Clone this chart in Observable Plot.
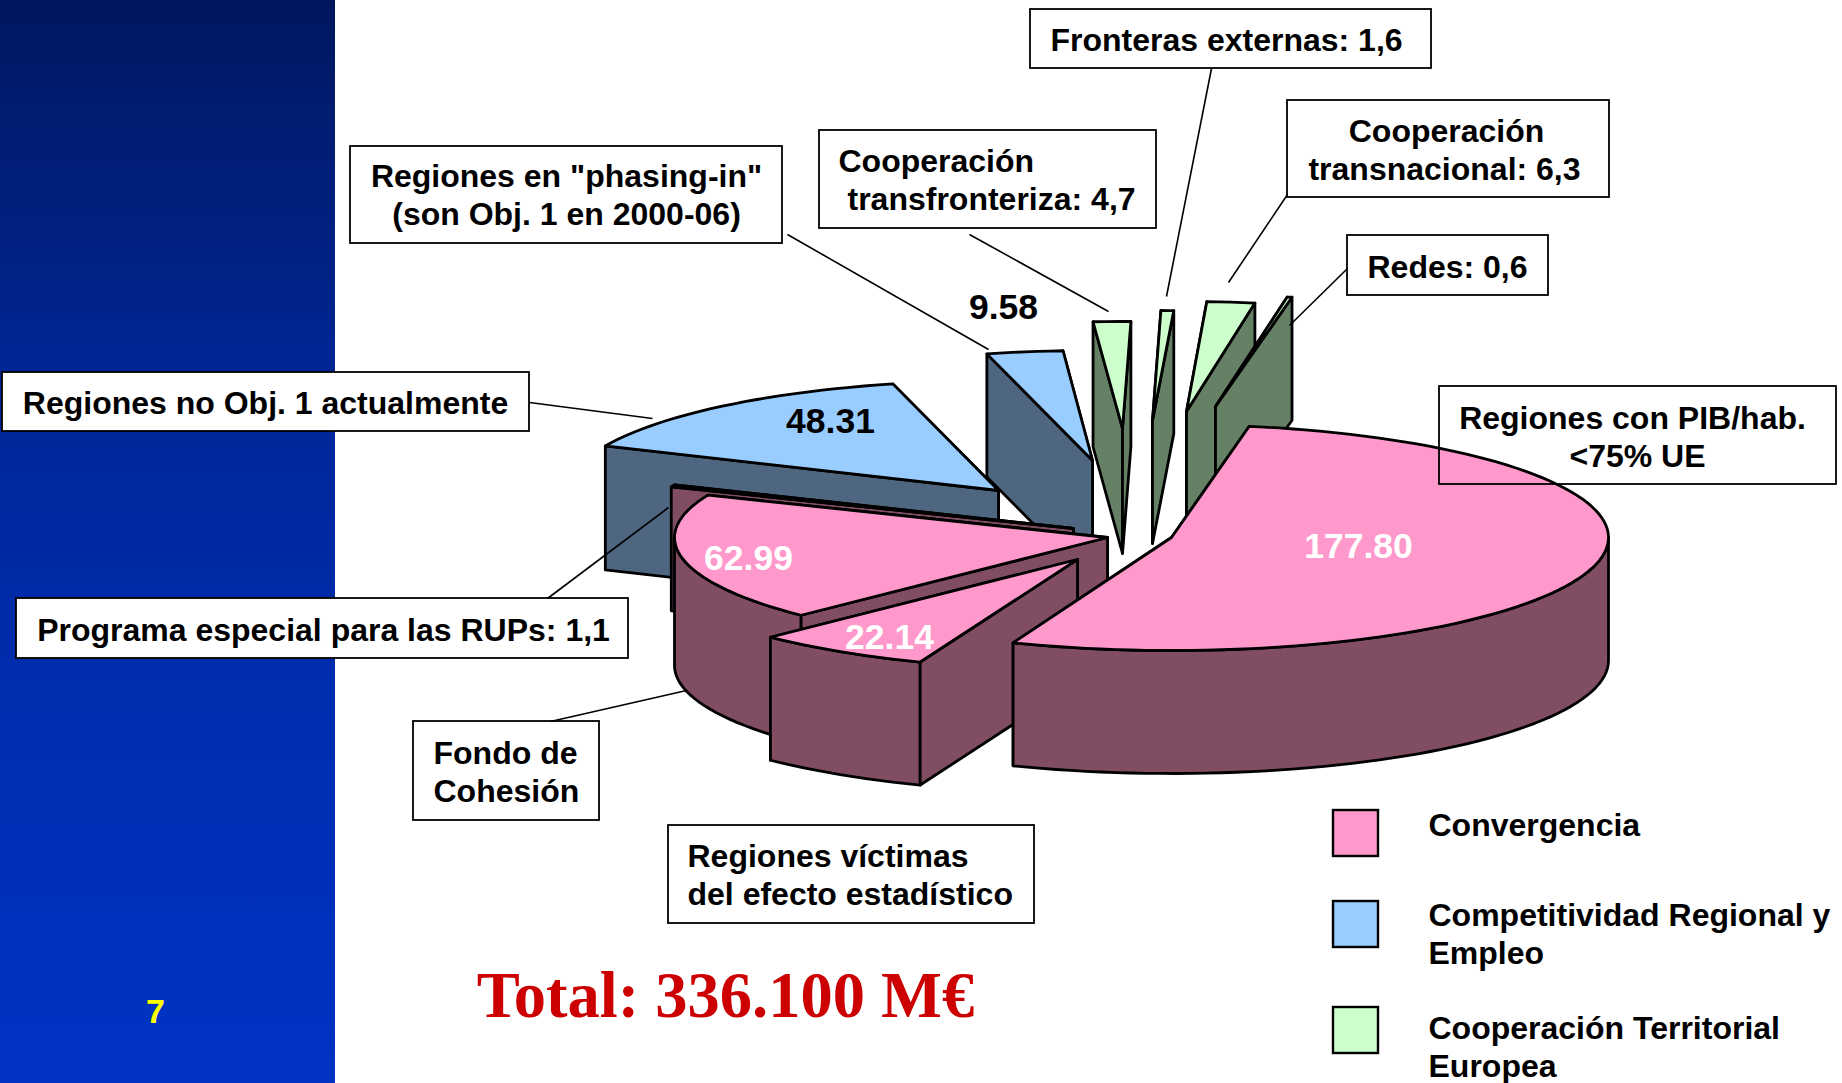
<!DOCTYPE html>
<html><head><meta charset="utf-8">
<script src="https://cdn.jsdelivr.net/npm/d3@7"></script>
<script src="https://cdn.jsdelivr.net/npm/@observablehq/plot@0.6"></script>
<style>html,body{margin:0;padding:0;background:#fff;overflow:hidden}svg{display:block}</style>
</head><body><div id="chart"></div>
<script>
// ---- data ----
const sliceNames = ["Convergencia regiones PIB","Efecto estadístico","Fondo de Cohesión","RUPs","Regiones no Obj. 1","Phasing-in","Transfronteriza","Fronteras externas","Transnacional","Redes"];
const sliceValues = [177.80,22.14,62.99,1.1,48.31,9.58,4.7,1.6,6.3,0.6];
const sliceGroups = ["C","C","C","C","R","R","T","T","T","T"];
const valueLabelled = [true,true,true,false,true,true,false,false,false,false];
const legendNames = [["Convergencia"],["Competitividad Regional y","Empleo"],["Cooperación Territorial","Europea"]];
const legendGroups = ["C","R","T"];
const totalText = "Total: 336.100 M€";
const pageNumber = "7";

// ---- styles ----
const topColor = {C:"#FF99CC",R:"#99CCFF",T:"#CCFFCC"};
const wallColor = {C:"#804D63",R:"#4F6680",T:"#668066"};
const valueColor = ["#fff","#fff","#fff","#000","#000","#000","#000","#000","#000","#000"];

// ---- layout of the exploded 3-D pie ----
const W = 1842, H = 1083, startAngle = 10.25;
const explodeX = [1171,1077,1107,1073,998,1092,1122,1152,1186,1215];
const explodeY = [537,559,537,528,490,460,428,420,411,406];
const radiusX  = [437,434,433,436,430,430,430,430,410,430];
const radiusY  = [113,110,110,108,110,110,107,110,110,111];
const depth    = [123,123,128,124,124,123,125,123,123,123];
const paintOrder = [8,9,7,6,5,4,3,2,1,0];
const valueAt = [[1358,546],[889,637],[748,558],null,[830,421],[1003,307]];

const boxes = [
 [1030,9,401,59],[1287,100,322,97],[1347,235,201,60],[819,130,337,98],[350,146,432,97],
 [2,372,527,59],[16,598,612,60],[413,721,186,99],[668,825,366,98],[1439,386,397,98]];
const leaders = [
 [1211,68,1166,296],[1287,194,1228,282],[1347,268,1289,325],[969,234,1108,311],[787,234,988,349],
 [529,402,652,418],[547,598,668,507],[550,721,686,690]];
const calloutCentered = [
 ["Fronteras externas: 1,6",1226,40],
 ["Cooperación",1446,131],["transnacional: 6,3",1444,169],
 ["Redes: 0,6",1447,267],
 ["Regiones en \"phasing-in\"",566,176],["(son Obj. 1 en 2000-06)",566,214],
 ["Regiones no Obj. 1 actualmente",265,403],
 ["Programa especial para las RUPs: 1,1",323,630],
 ["Regiones con PIB/hab.",1632,418],["<75% UE",1637,456]];
const calloutLeft = [
 ["Cooperación",838,161],["transfronteriza: 4,7",847,199],
 ["Fondo de",433,753],["Cohesión",433,791],
 ["Regiones víctimas",687,856],["del efecto estadístico",687,894]];
const legendSwatchY = [810,901,1007];
const legendTextY = [[825],[915,953],[1028,1066]];

// ---- geometry from the values ----
const total = d3.sum(sliceValues);
let running = startAngle;
const slices = sliceValues.map((v,i)=>{
  const a0 = running, a1 = running + v/total*360; running = a1;
  return {i,a0,a1,cx:explodeX[i],cy:explodeY[i],rx:radiusX[i],ry:radiusY[i],h:depth[i],g:sliceGroups[i]};
});
const rad = d=>d*Math.PI/180;
const pt = (s,a,dy=0)=>({x:s.cx+s.rx*Math.sin(rad(a)),y:s.cy-s.ry*Math.cos(rad(a))+dy});
const arc = (s,a0,a1,dy=0)=>{
  const n = Math.max(2,Math.ceil((a1-a0)/2));
  return d3.range(n+1).map(k=>pt(s,a0+(a1-a0)*k/n,dy));
};
const apex = (s,dy=0)=>({x:s.cx,y:s.cy+dy});
const stroke = {stroke:"#000",strokeWidth:2.8,strokeLinejoin:"round"};
const poly = (pts,fill)=>Plot.line(pts,{x:"x",y:"y",curve:"linear-closed",fill,...stroke});
const wall = (s,a)=>poly([apex(s),pt(s,a),pt(s,a,s.h),apex(s,s.h)],wallColor[s.g]);

const sliceMarks = paintOrder.flatMap(i=>{
  const s = slices[i], m = [];
  const sinA0 = Math.sin(rad(s.a0)), sinA1 = Math.sin(rad(s.a1));
  if (sinA0 >= 0) m.push(wall(s,s.a0));
  if (sinA1 <= 0) m.push(wall(s,s.a1));
  const f0 = Math.max(s.a0,90), f1 = Math.min(s.a1,270);
  if (f1 > f0) m.push(poly([...arc(s,f0,f1),...arc(s,f0,f1,s.h).reverse()],wallColor[s.g]));
  if (sinA0 < 0) m.push(wall(s,s.a0));
  if (sinA1 > 0) m.push(wall(s,s.a1));
  m.push(poly([apex(s),...arc(s,s.a0,s.a1)],topColor[s.g]));
  return m;
});

// ---- rows for the annotation marks ----
const font = {fontFamily:"'Liberation Sans',Arial,sans-serif",fontWeight:"bold",lineAnchor:"middle"};
const boxRows = boxes.map(([x,y,w,h],i)=>({x,y,x2:x+w,y2:y+h,last:i===boxes.length-1}));
const labelled = sliceValues.map((v,i)=>({v,i})).filter(d=>valueLabelled[d.i]);
const valueRows = labelled.map(d=>({text:d3.format(".2f")(d.v),x:valueAt[d.i][0],y:valueAt[d.i][1],fill:valueColor[d.i]}));
const legendSwatches = legendGroups.map((g,i)=>({x:1333,x2:1378,y:legendSwatchY[i],y2:legendSwatchY[i]+46,g}));
const legendRows = legendNames.flatMap((lines,i)=>lines.map((t,j)=>({t,y:legendTextY[i][j]})));

const gradient = ()=>{
  const svg = d3.create("svg:g");
  const lg = svg.append("defs").append("linearGradient").attr("id","panel").attr("x1",0).attr("x2",0).attr("y1",0).attr("y2",1);
  [["0","#00175F"],["0.12","#001D73"],["0.35","#002696"],["0.65","#002DB0"],["1","#0033C4"]]
    .forEach(([o,c])=>lg.append("stop").attr("offset",o).attr("stop-color",c));
  return svg.node();
};

const chart = Plot.plot({
  width:W,height:H,margin:0,
  x:{domain:[0,W],range:[0,W],axis:null},
  y:{domain:[0,H],range:[0,H],axis:null},
  style:{background:"#fff"},
  marks:[
    gradient,
    Plot.rect([{x1:0,x2:335,y1:0,y2:H}],{x1:"x1",x2:"x2",y1:"y1",y2:"y2",fill:"url(#panel)",inset:0}),
    ...sliceMarks,
    Plot.rect(boxRows.filter(d=>!d.last),{x1:"x",x2:"x2",y1:"y",y2:"y2",fill:"#fff",stroke:"#000",strokeWidth:1.8}),
    Plot.rect(boxRows.filter(d=>d.last),{x1:"x",x2:"x2",y1:"y",y2:"y2",fill:"none",stroke:"#000",strokeWidth:1.8}),
    Plot.link(leaders,{x1:d=>d[0],y1:d=>d[1],x2:d=>d[2],y2:d=>d[3],stroke:"#000",strokeWidth:1.6}),
    Plot.text(calloutCentered,{text:d=>d[0],x:d=>d[1],y:d=>d[2],textAnchor:"middle",fontSize:32,fill:"#000",...font}),
    Plot.text(calloutLeft,{text:d=>d[0],x:d=>d[1],y:d=>d[2],textAnchor:"start",fontSize:32,fill:"#000",...font}),
    Plot.text(valueRows,{text:"text",x:"x",y:"y",fill:d=>d.fill,fontSize:35.5,...font}),
    Plot.rect(legendSwatches,{x1:"x",x2:"x2",y1:"y",y2:"y2",fill:d=>topColor[d.g],stroke:"#000",strokeWidth:2.4}),
    Plot.text(legendRows,{text:"t",x:1428,y:"y",textAnchor:"start",fontSize:32,fill:"#000",...font}),
    Plot.text([totalText],{text:d=>d,x:725,y:996,fontSize:64.5,fill:"#CC0000",fontFamily:"'Liberation Serif','Times New Roman',serif",fontWeight:"bold",lineAnchor:"middle"}),
    Plot.text([pageNumber],{text:d=>d,x:155,y:1012,fontSize:34,fill:"#FFFF00",...font})
  ]
});
document.getElementById("chart").append(chart);
</script></body></html>
